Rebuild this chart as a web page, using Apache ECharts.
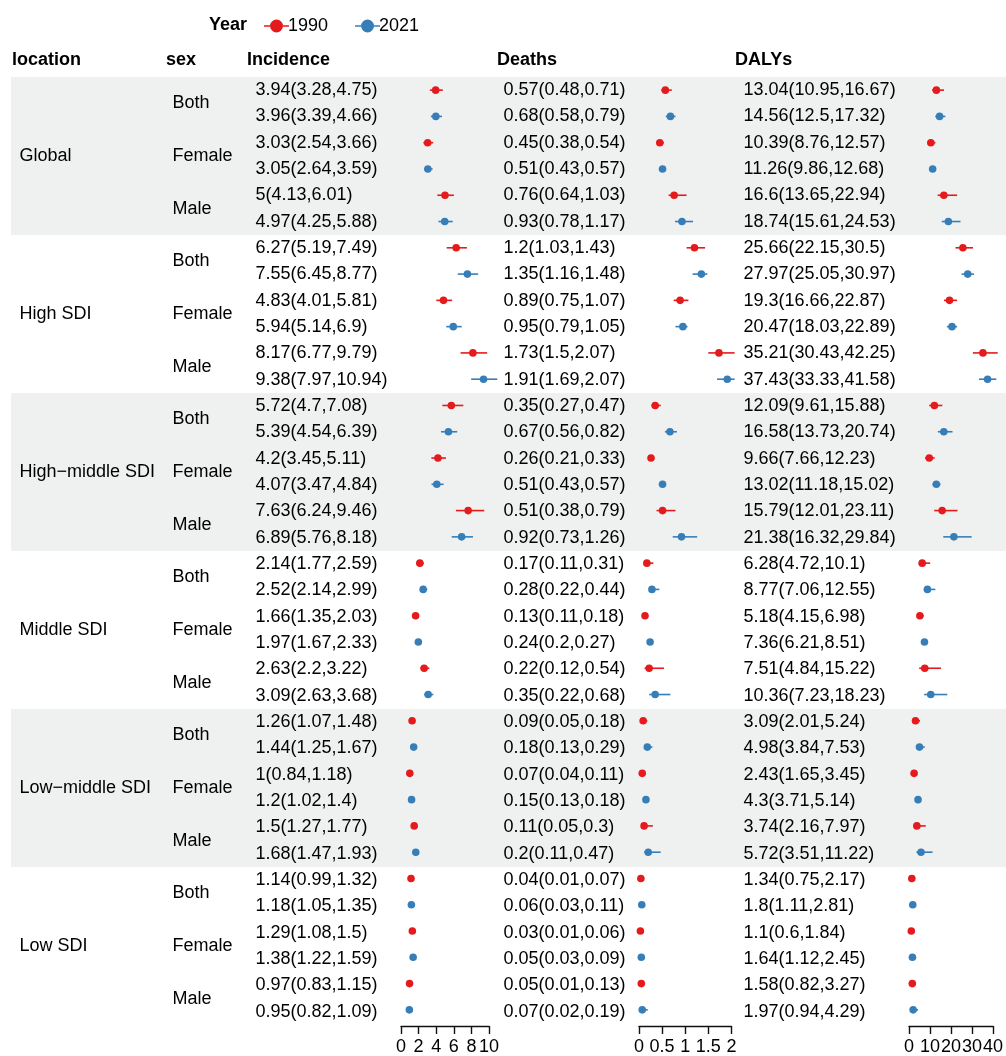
<!DOCTYPE html>
<html><head><meta charset="utf-8">
<script src="https://cdn.jsdelivr.net/npm/echarts@6/dist/echarts.min.js"></script>
<style>html,body{margin:0;padding:0;background:#fff}#c{width:1006px;height:1056px}</style>
</head><body><div id="c"></div>
<script>
const locations = ['Global', 'High SDI', 'High\u2212middle SDI', 'Middle SDI', 'Low\u2212middle SDI', 'Low SDI'];
const sexes = ['Both', 'Female', 'Male'];
const years = ['1990', '2021'];
const measures = ['Incidence', 'Deaths', 'DALYs'];

// rows ordered location > sex > year; each [estimate, lower, upper]
const incidence = [
  [3.94,3.28,4.75],[3.96,3.39,4.66],[3.03,2.54,3.66],[3.05,2.64,3.59],[5,4.13,6.01],[4.97,4.25,5.88],
  [6.27,5.19,7.49],[7.55,6.45,8.77],[4.83,4.01,5.81],[5.94,5.14,6.9],[8.17,6.77,9.79],[9.38,7.97,10.94],
  [5.72,4.7,7.08],[5.39,4.54,6.39],[4.2,3.45,5.11],[4.07,3.47,4.84],[7.63,6.24,9.46],[6.89,5.76,8.18],
  [2.14,1.77,2.59],[2.52,2.14,2.99],[1.66,1.35,2.03],[1.97,1.67,2.33],[2.63,2.2,3.22],[3.09,2.63,3.68],
  [1.26,1.07,1.48],[1.44,1.25,1.67],[1,0.84,1.18],[1.2,1.02,1.4],[1.5,1.27,1.77],[1.68,1.47,1.93],
  [1.14,0.99,1.32],[1.18,1.05,1.35],[1.29,1.08,1.5],[1.38,1.22,1.59],[0.97,0.83,1.15],[0.95,0.82,1.09]
];
const deaths = [
  [0.57,0.48,0.71],[0.68,0.58,0.79],[0.45,0.38,0.54],[0.51,0.43,0.57],[0.76,0.64,1.03],[0.93,0.78,1.17],
  [1.2,1.03,1.43],[1.35,1.16,1.48],[0.89,0.75,1.07],[0.95,0.79,1.05],[1.73,1.5,2.07],[1.91,1.69,2.07],
  [0.35,0.27,0.47],[0.67,0.56,0.82],[0.26,0.21,0.33],[0.51,0.43,0.57],[0.51,0.38,0.79],[0.92,0.73,1.26],
  [0.17,0.11,0.31],[0.28,0.22,0.44],[0.13,0.11,0.18],[0.24,0.2,0.27],[0.22,0.12,0.54],[0.35,0.22,0.68],
  [0.09,0.05,0.18],[0.18,0.13,0.29],[0.07,0.04,0.11],[0.15,0.13,0.18],[0.11,0.05,0.3],[0.2,0.11,0.47],
  [0.04,0.01,0.07],[0.06,0.03,0.11],[0.03,0.01,0.06],[0.05,0.03,0.09],[0.05,0.01,0.13],[0.07,0.02,0.19]
];
const dalys = [
  [13.04,10.95,16.67],[14.56,12.5,17.32],[10.39,8.76,12.57],[11.26,9.86,12.68],[16.6,13.65,22.94],[18.74,15.61,24.53],
  [25.66,22.15,30.5],[27.97,25.05,30.97],[19.3,16.66,22.87],[20.47,18.03,22.89],[35.21,30.43,42.25],[37.43,33.33,41.58],
  [12.09,9.61,15.88],[16.58,13.73,20.74],[9.66,7.66,12.23],[13.02,11.18,15.02],[15.79,12.01,23.11],[21.38,16.32,29.84],
  [6.28,4.72,10.1],[8.77,7.06,12.55],[5.18,4.15,6.98],[7.36,6.21,8.51],[7.51,4.84,15.22],[10.36,7.23,18.23],
  [3.09,2.01,5.24],[4.98,3.84,7.53],[2.43,1.65,3.45],[4.3,3.71,5.14],[3.74,2.16,7.97],[5.72,3.51,11.22],
  [1.34,0.75,2.17],[1.8,1.11,2.81],[1.1,0.6,1.84],[1.64,1.12,2.45],[1.58,0.82,3.27],[1.97,0.94,4.29]
];
const incidenceTicks = [0, 2, 4, 6, 8, 10];
const deathsTicks = [0, 0.5, 1, 1.5, 2];
const dalysTicks = [0, 10, 20, 30, 40];

const FONT = 'Liberation Sans, Arial, Helvetica, sans-serif';
const FS = 18;
const TXT = '#000000';
const yearColors = ['#E41A1C', '#377EB8'];
const nRows = locations.length * sexes.length * years.length;
const gridTop = 77, gridH = 948;

const chart = echarts.init(document.getElementById('c'), null, {renderer: 'canvas'});

function rowY(r) { return r + 0.5; }

const colX = {location: 19, sex: 172, Incidence: 255, Deaths: 503, DALYs: 743};
const measureData = {Incidence: incidence, Deaths: deaths, DALYs: dalys};
const measureTicks = {Incidence: incidenceTicks, Deaths: deathsTicks, DALYs: dalysTicks};
const forestGrid = {Incidence: {left: 401, width: 88}, Deaths: {left: 639, width: 92.4}, DALYs: {left: 909, width: 91}};

function textSeries(data) {
  return {
    type: 'scatter', xAxisIndex: 0, yAxisIndex: 0, symbolSize: 1, silent: true, z: 3,
    itemStyle: {color: 'rgba(0,0,0,0)'},
    label: {show: true, position: 'right', distance: 0, color: TXT, fontSize: FS, fontFamily: FONT,
      opacity: 1, formatter: p => p.data[2]},
    data: data
  };
}

const series = [];
series.push({
  type: 'custom', xAxisIndex: 0, yAxisIndex: 0, silent: true, z: 0,
  data: locations.map((l, i) => [i]).filter(d => d[0] % 2 === 0),
  renderItem: (params, api) => {
    const g = api.value(0);
    const per = sexes.length * years.length;
    const p0 = api.coord([11, g * per]);
    const p1 = api.coord([1006, (g + 1) * per]);
    return {type: 'rect', shape: {x: p0[0], y: p0[1], width: p1[0] - p0[0], height: p1[1] - p0[1]},
      style: {fill: '#eff1f1'}};
  }
});
series.push(textSeries(locations.map((l, g) => [colX.location, g * 6 + 3, l])));
const sexData = [];
locations.forEach((l, g) => sexes.forEach((s, k) => sexData.push([colX.sex, g * 6 + k * 2 + 1, s])));
series.push(textSeries(sexData));
measures.forEach(m => {
  series.push(textSeries(measureData[m].map((v, r) => [colX[m], rowY(r), `${v[0]}(${v[1]},${v[2]})`])));
});

function renderCI(params, api) {
  const y = api.value(3);
  const pm = api.coord([api.value(0), y]);
  const pl = api.coord([api.value(1), y]);
  const ph = api.coord([api.value(2), y]);
  const c = api.visual('color');
  return {type: 'group', children: [
    {type: 'line', shape: {x1: pl[0], y1: pl[1], x2: ph[0], y2: ph[1]}, style: {stroke: c, lineWidth: 1.6}},
    {type: 'circle', shape: {cx: pm[0], cy: pm[1], r: 3.8}, style: {fill: c}}
  ]};
}
measures.forEach((m, mi) => {
  years.forEach((yr, yi) => {
    series.push({
      type: 'custom', name: yr, xAxisIndex: mi + 1, yAxisIndex: mi + 1, z: 5, clip: false,
      itemStyle: {color: yearColors[yi]},
      encode: {x: [0, 1, 2], y: 3},
      data: measureData[m].map((v, r) => [v[0], v[1], v[2], rowY(r)]).filter((d, r) => r % 2 === yi),
      renderItem: renderCI
    });
  });
});

const grids = [{left: 0, top: gridTop, width: 1006, height: gridH}];
const xAxes = [{gridIndex: 0, type: 'value', min: 0, max: 1006, show: false}];
const yAxes = [{gridIndex: 0, type: 'value', min: 0, max: nRows, inverse: true, show: false}];
measures.forEach((m, mi) => {
  const t = measureTicks[m];
  grids.push({left: forestGrid[m].left, width: forestGrid[m].width, top: gridTop, height: gridH});
  xAxes.push({
    gridIndex: mi + 1, type: 'value', min: t[0], max: t[t.length - 1], interval: t[1] - t[0],
    position: 'bottom', offset: 3,
    axisLine: {show: true, onZero: false, lineStyle: {color: '#111', width: 1.4}},
    axisTick: {show: true, length: 8, lineStyle: {color: '#111', width: 1.4}},
    axisLabel: {show: true, fontSize: FS, color: TXT, fontFamily: FONT, margin: 12,
      showMinLabel: true, showMaxLabel: true, hideOverlap: false},
    splitLine: {show: false}
  });
  yAxes.push({gridIndex: mi + 1, type: 'value', min: 0, max: nRows, inverse: true, show: false});
});

const headerY = 60;
const headers = [
  {text: 'location', x: 12}, {text: 'sex', x: 166},
  {text: 'Incidence', x: 247}, {text: 'Deaths', x: 497}, {text: 'DALYs', x: 735}
];
const graphics = headers.map(h => ({
  type: 'text', x: h.x, y: headerY,
  style: {text: h.text, fill: TXT, font: `bold ${FS}px ${FONT}`, textVerticalAlign: 'middle', verticalAlign: 'middle'}
}));
graphics.push({type: 'text', x: 209, y: 25,
  style: {text: 'Year', fill: TXT, font: `bold ${FS}px ${FONT}`, textVerticalAlign: 'middle', verticalAlign: 'middle'}});

const legendIcon = 'path://M0,5.7h6v1.6h-6z M19,5.7h6v1.6h-6z M6,6.5a6.5,6.5 0 1,0 13,0a6.5,6.5 0 1,0 -13,0z';

chart.setOption({
  animation: false,
  backgroundColor: '#ffffff',
  textStyle: {fontFamily: FONT},
  legend: {
    left: 264, top: 17, padding: 0, itemWidth: 25, itemHeight: 13, itemGap: 27,
    data: years.map(y => ({name: y, icon: legendIcon})),
    textStyle: {fontSize: FS, color: TXT, fontFamily: FONT, padding: [0, 0, 0, -6]},
    selectedMode: false
  },
  grid: grids,
  xAxis: xAxes,
  yAxis: yAxes,
  graphic: graphics,
  series: series
});
</script></body></html>
